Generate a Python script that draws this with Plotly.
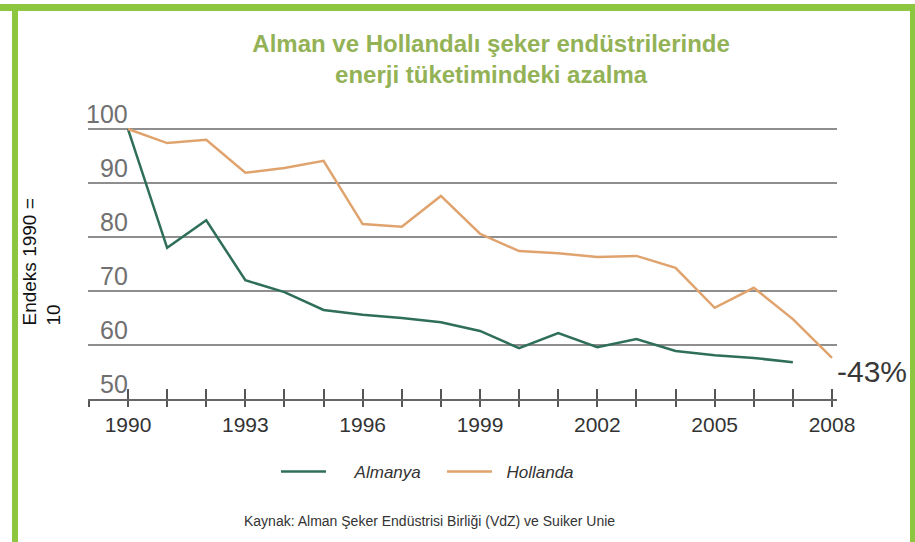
import plotly.graph_objects as go

# Energy consumption index (1990 = 100)
years = list(range(1990, 2009))
almanya = [100, 78, 83.1, 72, 69.8, 66.5, 65.6, 65, 64.2, 62.6, 59.4,
           62.2, 59.6, 61.1, 58.9, 58.1, 57.6, 56.8]
hollanda = [100, 97.4, 98, 91.9, 92.8, 94.1, 82.4, 81.9, 87.6, 80.6, 77.4,
            77, 76.3, 76.5, 74.3, 66.9, 70.6, 64.8, 57.6]

y_ticks = [50, 60, 70, 80, 90, 100]
x_ticks = [1990, 1993, 1996, 1999, 2002, 2005, 2008]

title_text = "Alman ve Hollandalı şeker endüstrilerinde<br>enerji tüketimindeki azalma"
source_text = "Kaynak: Alman Şeker Endüstrisi Birliği (VdZ) ve Suiker Unie"
change_label = "-43%"

FRAME_GREEN = "#8dc63f"
TITLE_GREEN = "#93b256"
DE_COLOR = "#2f6f58"
NL_COLOR = "#e0a36e"
FONT = "Arial, Liberation Sans, sans-serif"

# plot area in pixels (915x542 canvas)
L, R, T, B = 88, 837, 120, 399


def px(x):
    return (x - L) / (R - L)


def py(y):
    return (B - y) / (B - T)


fig = go.Figure()

# non-breaking spaces push the legend text away from its line sample
fig.add_trace(go.Scatter(x=years[:len(almanya)], y=almanya, mode='lines',
                         name="\u00a0" * 5 + 'Almanya',
                         line=dict(color=DE_COLOR, width=2.5)))
fig.add_trace(go.Scatter(x=years, y=hollanda, mode='lines',
                         name="\u00a0" * 2 + 'Hollanda',
                         line=dict(color=NL_COLOR, width=2.5)))

# y tick labels sit above their gridlines, right aligned at 1990
for v in y_ticks:
    fig.add_annotation(x=1990, y=v, xref='x', yref='y', text=str(v), showarrow=False,
                       xanchor='right', yanchor='bottom', xshift=2, yshift=-1,
                       font=dict(family=FONT, size=25, color='#707070'))

# end-of-line change label
fig.add_annotation(x=years[-1], y=hollanda[-1], xref='x', yref='y', text=change_label,
                   showarrow=False, xanchor='left', yanchor='middle', xshift=3, yshift=-14,
                   font=dict(family=FONT, size=30, color='#383838'))

# y axis title
fig.add_annotation(x=px(16), y=py(328), xref='paper', yref='paper',
                   text="Endeks 1990 =<br>10", showarrow=False, textangle=-90, align='left',
                   xanchor='left', yanchor='bottom',
                   font=dict(family=FONT, size=19, color='#111'))

# source line
fig.add_annotation(x=px(242), y=py(521), xref='paper', yref='paper', text=source_text,
                   showarrow=False, xanchor='left', yanchor='middle',
                   font=dict(family=FONT, size=14, color='#333'))

# green frame
for x0, y0, x1, y1 in [(0, 4, 915, 11), (12, 4, 18, 542), (910, 4, 915, 542)]:
    fig.add_shape(type='rect', xref='paper', yref='paper', x0=px(x0), x1=px(x1),
                  y0=py(y0), y1=py(y1), fillcolor=FRAME_GREEN, line_width=0, layer='above')

fig.update_layout(
    width=915, height=542,
    margin=dict(l=L, r=915 - R, t=T, b=542 - B),
    paper_bgcolor='white', plot_bgcolor='white',
    title=dict(text=title_text, x=px(490), xanchor='center', y=1 - 52 / 542, yanchor='middle',
               font=dict(family=FONT, size=24, color=TITLE_GREEN, weight='bold')),
    xaxis=dict(range=[1988.977, 2008.128], tickvals=x_ticks, ticks='outside', ticklen=6,
               tickwidth=1.5, tickcolor='#555', showline=True, linecolor='#666', linewidth=2,
               showgrid=False, zeroline=False,
               minor=dict(dtick=1, tick0=1990, ticks='outside', ticklen=6, tickwidth=1.5,
                          tickcolor='#555', showgrid=False),
               tickfont=dict(family=FONT, size=21, color='#333')),
    xaxis2=dict(overlaying='x', range=[1988.977, 2008.128], dtick=1, tick0=1990,
                ticks='inside', ticklen=10, tickwidth=1.5, tickcolor='#555',
                showticklabels=False, showgrid=False, zeroline=False, side='bottom',
                anchor='y'),
    yaxis=dict(range=[50, 101.67], tickvals=y_ticks[1:], showticklabels=False,
               showgrid=True, gridcolor='#8e8e8e', gridwidth=2, zeroline=False, ticks=''),
    legend=dict(orientation='h', x=px(276), y=py(472), xanchor='left', yanchor='middle',
                font=dict(family=FONT, size=17, color='#333', style='italic'),
                entrywidth=106, entrywidthmode='pixels', itemwidth=45),
    showlegend=True,
)

# invisible trace so the inside ticks of xaxis2 are drawn
fig.add_trace(go.Scatter(x=[years[0]], y=[y_ticks[0]], xaxis='x2', mode='markers',
                         marker=dict(opacity=0), showlegend=False, hoverinfo='skip'))

# the page body has a default 8px margin; drop it so the figure fills the window
fig.write_html("out.html", config={'displayModeBar': False},
               post_script="document.body.style.margin = '0';")
